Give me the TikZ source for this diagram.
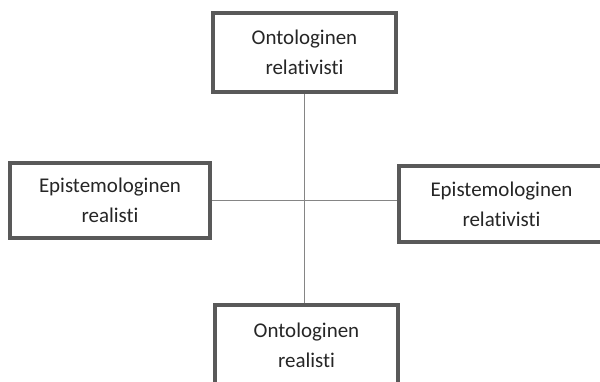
\documentclass[tikz,border=0pt]{standalone}
\usepackage{fontspec}
\setmainfont[RawFeature={-liga,-clig}]{Carlito}
\usetikzlibrary{calc}
\definecolor{boxgray}{HTML}{595959}
\definecolor{linegray}{HTML}{858585}
\definecolor{textgray}{HTML}{262626}

\begin{document}
\begin{tikzpicture}[x=0.025cm, y=-0.025cm,
  box/.style={draw=boxgray, line width=0.1cm, fill=white, inner sep=0pt, align=center, text=textgray, font=\fontsize{14.9pt}{21.5pt}\selectfont},
  link/.style={draw=linegray, line width=0.04cm}]
\useasboundingbox (0,0) rectangle (600,382);
\clip (0,0) rectangle (600,382);
\node[box, minimum width=4.575cm, minimum height=1.975cm] (ontrel) at (304.5,52.5) {Ontologinen\\relativisti};
\node[box, minimum width=5cm, minimum height=1.875cm] (epireal) at (110,200.5) {Epistemologinen\\realisti};
\node[box, minimum width=5.125cm, minimum height=1.9cm] (epirel) at (501.5,204) {Epistemologinen\\relativisti};
\node[box, minimum width=4.575cm, minimum height=2.025cm] (ontreal) at (306.5,345.5) {Ontologinen\\realisti};
\draw[link] (ontrel.south) -- (ontrel.south |- ontreal.north);
\draw[link] (epireal.east) -- (epireal.east -| epirel.west);
\end{tikzpicture}
\end{document}
